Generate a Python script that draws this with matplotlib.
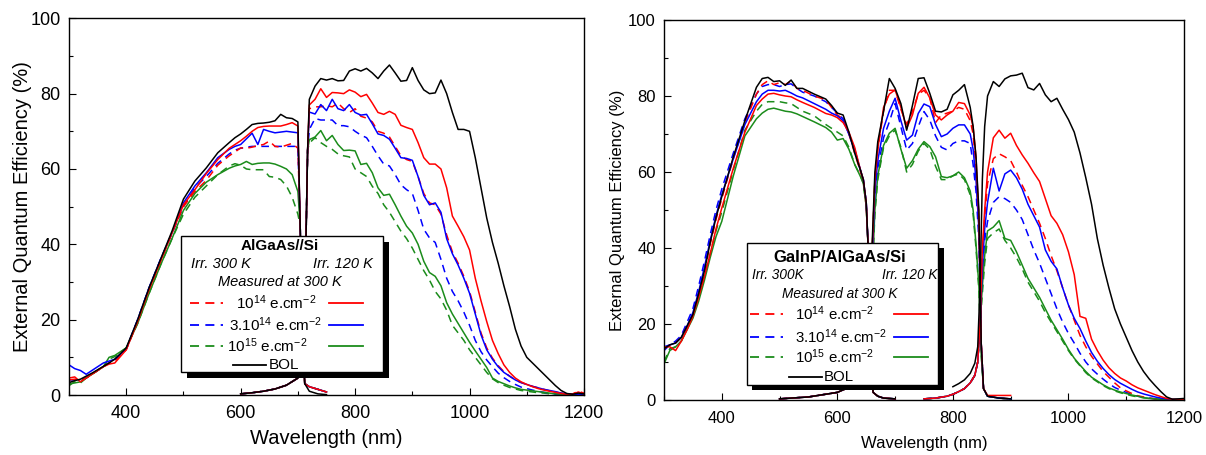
import numpy as np
import matplotlib
matplotlib.use("Agg")
import matplotlib.pyplot as plt
from matplotlib.patches import Rectangle
from matplotlib.lines import Line2D

plt.rcParams['font.family'] = ['Liberation Sans', 'DejaVu Sans']
plt.rcParams['mathtext.fontset'] = 'custom'
plt.rcParams['mathtext.rm'] = 'Liberation Sans'
plt.rcParams['mathtext.it'] = 'Liberation Sans:italic'
plt.rcParams['mathtext.bf'] = 'Liberation Sans:bold'

# ---------------- left panel : AlGaAs//Si ----------------
# top cell (AlGaAs)
L_TOP_WL = [300, 310, 320, 330, 340, 360, 370, 380, 400, 420, 440, 460, 480, 500, 520,
            540, 560, 580, 590, 600, 610, 620, 630, 640, 650, 660, 670, 680, 690, 700]
L_TOP = {
    'd14': [4, 4.2, 4, 4.5, 5.5, 7.5, 8.5, 9, 12, 19.5, 28, 35.5, 43, 50, 54,
            57, 61, 63.5, 64.5, 65.6, 65.5, 65.8, 66.2, 66.5, 67.4, 66, 65.8, 66.3, 66.8, 65.5],
    's14': [4.5, 4.8, 3.5, 4.5, 5.5, 7.5, 8.2, 8.5, 12, 19.5, 28, 35.5, 43, 50.5, 54.5,
            58.8, 62.5, 65.5, 66.5, 67.5, 68.7, 70, 71, 71.3, 71.4, 71.4, 71.4, 71.8, 72.3, 71.4],
    'd314': [4, 4, 4, 4.5, 5.5, 7.5, 8.5, 9.5, 12.2, 20, 28.5, 36, 43, 50, 55,
             58, 61.5, 64, 65, 65.5, 65.8, 66, 66, 66, 66, 66, 66, 66, 66, 66],
    's314': [8, 7, 6.5, 5.5, 6.5, 8.5, 9, 9.5, 12.2, 20, 28.5, 36, 43, 51, 55.5,
             59, 63, 65.2, 66, 66.5, 68, 69.5, 66.5, 70.5, 70, 69.6, 69.8, 70, 69.8, 69.6],
    'd15': [2.5, 3.5, 3.2, 4.5, 5.5, 7.5, 9.5, 10.2, 12.5, 19, 27, 34.5, 41.5, 48, 52.5,
            55.5, 58.5, 60.8, 61.4, 61, 60, 59.8, 59.8, 59.8, 58, 57.8, 57.2, 55.5, 52.5, 48],
    's15': [3, 3.2, 3.5, 4.5, 5.5, 7.5, 10, 10.5, 12.5, 19, 27, 34.5, 41.5, 49, 53.5,
            56.5, 58.5, 60.2, 60.8, 61.2, 62, 61.2, 61.5, 61.6, 61.6, 61.3, 60.7, 60, 58.5, 54],
    'bol': [3.3, 3.8, 4.2, 5, 5.8, 7.6, 8.5, 9.5, 12.5, 20, 28.5, 36, 43.5, 52, 56.8,
            60.3, 64.3, 67, 68.3, 69.3, 70.5, 71.8, 72.1, 72.2, 72.4, 72.8, 74.5, 73.6, 73.4, 72.5],
}
L_TOP_TAIL_WL = [704, 708, 712, 720, 735, 750]
L_TOP_TAIL = [45, 15, 3, 2.2, 1.5, 0.8]
L_BOL_TAIL = [45, 15, 3, 1.0, 0.3, 0.1]

# bottom cell (Si)
L_BOT_EDGE_WL = [600, 620, 640, 660, 680, 700, 706, 710, 714, 717]
L_BOT_EDGE = [0.3, 0.6, 1.0, 1.6, 2.6, 4.5, 6.5, 12, 40, 65]
L_BOT_WL = np.arange(720, 1201, 10)
L_BOT = {
    'd14': [76, 76.5, 76.5, 76.8, 76.5, 77.5, 76, 75, 76, 74, 73.5, 72.5, 70, 69.5, 68.5,
            66, 63.5, 62.5, 62, 58, 53.5, 51, 50.5, 48, 42.5, 38, 35, 31.5, 27.5, 22,
            16.5, 12.5, 9.8, 7.8, 6.2, 5, 4, 3.3, 2.8, 2.3, 1.9, 1.5, 1.1, 0.8, 0.5,
            0.3, 0.3, 1.0, 0.5],
    's14': [77, 78.5, 81.3, 79, 80.3, 80.2, 80, 81, 80.4, 79.2, 79.8, 77.5, 75, 74.5, 75.3,
            74.5, 71.6, 71, 70.5, 67, 63, 61.3, 61.3, 60, 55, 47.5, 44.8, 42, 38.5, 31,
            25, 19.5, 14.5, 11, 8, 6, 4.5, 3.5, 2.8, 2.2, 1.7, 1.3, 1.0, 0.7, 0.4,
            0.2, 0.2, 0.8, 0.3],
    'd314': [70.5, 73.4, 73, 73, 73, 71.5, 71.5, 71.2, 70, 69, 68.3, 66, 63.5, 61.3, 60.8,
             58.5, 55.8, 54.5, 53.5, 49, 44, 41.7, 40.5, 36, 31, 27.5, 25, 22, 18.5, 14.5,
             11.5, 9.3, 7.5, 5.8, 4.6, 3.6, 2.8, 2.1, 1.7, 1.3, 1.0, 0.7, 0.5, 0.3, 0.2,
             0.1, 0.1, 0.1, 0.1],
    's314': [75.1, 74.6, 77.1, 75.5, 78.5, 76, 75.5, 77.1, 75, 74.3, 74.5, 72, 69.3, 68.9, 67.9,
             65.5, 63, 62.8, 62.3, 58, 53, 50.5, 51, 48.5, 41.5, 37.5, 34.5, 31, 27, 21.5,
             16, 12, 9.5, 7.5, 6, 5, 4, 3.3, 2.8, 2.3, 1.9, 1.5, 1.2, 0.9, 0.5,
             0.3, 0.2, 0.2, 0.1],
    'd15': [66.9, 68.3, 67, 66, 65.2, 64, 63.5, 63.2, 60, 59, 58, 55.4, 53.5, 50.5, 48.5,
            46, 43.5, 41.5, 39, 36, 33, 30.5, 27.5, 25.5, 22.5, 18.5, 16.5, 14.5, 12, 10,
            8, 6, 4.3, 3.3, 2.6, 2, 1.6, 1.2, 1.0, 0.8, 0.6, 0.5, 0.3, 0.2, 0.1,
            0.1, 0.1, 0.1, 0.1],
    's15': [67.8, 68.5, 70.2, 67.5, 68.9, 66.5, 64.9, 65, 64.8, 61.2, 61.5, 59, 55, 53, 53.3,
            50.5, 47.5, 44.8, 43, 40, 35.5, 32.5, 31.5, 29, 24.5, 21.5, 19, 16.5, 14, 11.7,
            9.5, 7.3, 4.5, 3.6, 3.0, 2.4, 1.9, 1.5, 1.3, 1.1, 0.9, 0.7, 0.5, 0.3, 0.2,
            0.1, 0.1, 0.1, 0.1],
    'bol': [78.5, 82, 84, 83.6, 84, 83.4, 83.5, 86, 86.6, 86, 86.7, 85.5, 84, 86, 87.6,
            85.5, 83.3, 83.5, 86.9, 83.5, 81, 80, 80.2, 83.6, 80, 75, 70.5, 70.5, 70, 63,
            55, 47, 40.5, 35, 29, 23.5, 17.5, 13, 10, 8.5, 7, 5.5, 4, 2.5, 1.2,
            0.4, 0.2, 0.5, 0.3],
}

# ---------------- right panel : GaInP/AlGaAs/Si ----------------
R_TOP_WL = [300, 310, 320, 330, 340, 350, 360, 370, 380, 390, 400, 420, 440, 460, 470, 480,
            490, 500, 510, 520, 530, 540, 560, 580, 590, 600, 610, 620, 630, 640, 645, 650]
R_TOP = {
    'd14': [13.5, 14.5, 15, 16.5, 19.5, 22.5, 28, 34, 41, 47.5, 53, 63.5, 73, 80.5, 83, 84,
            83, 83.5, 83, 84, 82, 81.5, 80, 79, 77, 75, 74, 70, 65, 60, 57.5, 51],
    's14': [14, 14, 13, 15.5, 18.5, 22, 27, 32.5, 38.5, 45, 50.5, 61, 70.5, 77.5, 79.2, 80.5,
            80.7, 80.3, 80, 79.8, 79, 78.3, 77, 75.4, 75, 74.3, 73, 70.5, 66.5, 60.5, 58, 52],
    'd314': [13, 14.5, 15.5, 17, 20.5, 24, 30, 36.5, 43.5, 50, 55.5, 65, 74, 80.5, 82.5, 83,
             83, 82.5, 83, 83.2, 82, 81, 80, 78.5, 77, 75.5, 74, 70, 65.5, 60.5, 58, 52],
    's314': [14, 14.5, 15, 16.5, 19.5, 23, 28.5, 35, 42, 48.5, 54, 63.5, 72.5, 78.5, 80.5, 81.5,
             81.5, 81.3, 81.5, 80.8, 80, 79.5, 78, 76.5, 75.5, 74.8, 73.5, 70, 66, 60.5, 58, 52],
    'd15': [10, 13.5, 14, 15.5, 19, 22, 27, 32.5, 38.5, 44.5, 49.5, 60.5, 71, 76, 77.8, 78.5,
            78.5, 78.5, 78.2, 78, 77, 76, 74.8, 72.5, 71.5, 70.5, 69.5, 66.5, 62, 59, 57, 51],
    's15': [9.5, 13, 14, 15.5, 18.5, 21.5, 26, 31.5, 37.5, 43, 47, 59, 69.5, 74, 75.5, 76.5,
            76.8, 76.4, 76, 75.8, 75.3, 74.6, 73.2, 71.7, 70.5, 68.4, 68.8, 66, 62, 58.8, 57, 51],
    'bol': [13.5, 14.5, 15, 16.5, 19.5, 22.5, 28, 34, 41.5, 48, 53.5, 64, 73.5, 82.3, 84.6, 84.9,
            83.8, 84, 82.8, 84.2, 82, 82, 80.5, 79.2, 77.5, 75.5, 75, 70.5, 65, 60.5, 58, 52],
}
R_TOP_TAIL_WL = [654, 658, 662, 670, 680, 700]
R_TOP_TAIL = [38, 8, 2, 1, 0.5, 0.3]

# middle cell (AlGaAs)
R_MID_EDGE_WL = [500, 550, 600, 630, 650, 656]
R_MID_EDGE = [0.3, 0.8, 2.0, 4, 8, 20]
R_MID_WL = [660, 665, 670, 680, 690, 700, 710, 720, 730, 740, 750, 760, 770, 780,
            790, 800, 810, 820, 830, 835, 840, 845, 849, 853, 860, 880, 900]
R_MID = {
    'd14': [38, 58, 66, 76, 81.5, 81.5, 76.5, 72.5, 76, 80.5, 81.5, 79.5, 73, 75,
            75.5, 76, 77, 76.5, 73.5, 70, 61, 46, 15, 3, 1, 0.5, 0.3],
    's14': [38, 58, 66, 77, 80.5, 81.6, 77, 71.5, 75, 80.7, 82.3, 79.5, 75, 73.7,
            75, 76, 78.3, 78, 75, 71.9, 64, 48, 15, 3, 1.2, 1.2, 1.2],
    'd314': [35, 53, 61, 69, 73.2, 78, 71.9, 65.8, 67.5, 71.9, 75.9, 73.7, 69.5, 66.5,
             65.8, 67.5, 68.2, 68.2, 67.5, 62, 55, 42, 14, 3, 1, 0.5, 0.3],
    's314': [36, 55, 63, 71.5, 76, 79.4, 73.5, 68.4, 69.7, 75.4, 77.9, 77.2, 72.5, 69.3,
             70, 71.5, 72.4, 72.4, 70, 66, 58, 45, 15, 3, 1, 0.5, 0.3],
    'd15': [31, 49, 58, 66.5, 69.5, 71, 66.5, 60, 62, 65.5, 67.5, 66, 61.5, 58,
            58, 59, 59.5, 58, 54, 49, 40, 29, 12, 3, 1, 0.5, 0.3],
    's15': [32, 50, 59, 67, 70.2, 71.5, 66, 61, 63, 66, 68, 66.7, 64, 58.8,
            58.5, 59, 60, 58.5, 55, 50, 41, 30, 12, 3, 1, 0.5, 0.3],
    'bol': [40, 60, 68, 76, 84.6, 82, 78, 71, 77.5, 84.6, 84.8, 80.7, 76, 75.8,
            76.5, 80.3, 81.5, 83, 77, 72, 64, 50, 15, 3, 1, 0.5, 0.3],
}

# bottom cell (Si)
R_BOT_EDGE_WL = [750, 770, 790, 800, 810, 820, 830, 838, 843, 847]
R_BOT_EDGE = [0.3, 0.5, 1.0, 1.5, 2.2, 3.0, 4.5, 6.5, 10, 20]
R_BOL_EDGE_WL = [800, 810, 820, 830, 838, 843, 847]
R_BOL_EDGE = [3.5, 4.3, 5.3, 7, 9.7, 14, 30]
R_BOT_WL = [851, 855, 860] + list(range(870, 1201, 10))
R_BOT = {
    'd14': [38, 48, 57, 63.5, 64.8, 64, 63, 60, 56.5, 53.5, 50, 46.5, 42.5,
            38, 34, 29.5, 25, 21, 17, 14, 11.5, 9.5, 7.5,
            6, 4.5, 3.2, 2.4, 1.7, 1.1, 0.8, 0.5, 0.3, 0.2, 0.1, 0.1, 0.1, 0.1],
    's14': [40, 50, 60, 69, 71, 68.9, 70.2, 67, 64.5, 62.3, 59.8, 57.5, 53,
            48.5, 46.5, 43.5, 39, 33, 22, 21.5, 16, 13, 10.5,
            8.5, 7, 5.8, 5, 4, 3.2, 2.6, 2, 1.4, 0.9, 0.4, 0.2, 0.1, 0.1],
    'd314': [33, 42, 47, 52, 53.5, 53, 52, 50, 47.5, 43.5, 39.5, 36, 32,
             28, 24, 20.5, 17.5, 15, 12.3, 10, 8.2, 6.8, 5.5,
             4.3, 3.3, 2.6, 2.0, 1.4, 1.0, 0.7, 0.5, 0.3, 0.2, 0.1, 0.1, 0.1, 0.1],
    's314': [35, 45, 52, 61, 55, 59.5, 60.5, 58.5, 55.5, 51.5, 48.5, 45.5, 39.5,
             36.5, 34.5, 29.5, 25, 21.5, 18.8, 15.5, 12.5, 10.2, 8.3,
             6.7, 5.4, 4.4, 3.6, 2.8, 2.1, 1.6, 1.2, 0.8, 0.5, 0.3, 0.2, 0.1, 0.1],
    'd15': [28, 36, 42.5, 44, 45, 42, 40, 37.5, 34.5, 31, 28.5, 26, 23,
            20.5, 18, 15.5, 13, 10.8, 9, 7.2, 5.8, 4.8, 3.8,
            3, 2.4, 1.9, 1.5, 1.1, 0.8, 0.6, 0.4, 0.3, 0.2, 0.1, 0.1, 0.1, 0.1],
    's15': [30, 38, 44.5, 45.5, 47.2, 42.5, 42, 39, 35.5, 32, 29.5, 27, 24,
            21, 18.5, 16, 13.3, 11, 9.2, 7.5, 6, 5, 4,
            3.2, 2.6, 2.1, 1.7, 1.3, 1.0, 0.6, 0.4, 0.3, 0.2, 0.1, 0.1, 0.1, 0.1],
    'bol': [58, 72, 80, 83.8, 82.5, 84.5, 85.3, 85.5, 86, 82.2, 81.6, 83.3, 80.3,
            78.5, 79.4, 76.5, 73.8, 70.5, 65, 58.5, 51.5, 42.5, 35.5,
            29.5, 24, 20, 16.5, 13, 10, 7.5, 5.5, 3.8, 2.2, 0.8, 0.2, 0.3, 0.4],
}

# ---------------- styles ----------------
RED, BLUE, GREEN = '#ff0000', '#0000ff', '#1b8c1b'
STYLE = {
    'd14': (RED, True), 's14': (RED, False),
    'd314': (BLUE, True), 's314': (BLUE, False),
    'd15': (GREEN, True), 's15': (GREEN, False),
    'bol': ('black', False),
}
ORDER = ['d15', 'd314', 'd14', 's15', 's314', 's14', 'bol']
DASH = (5, 3.5)
LW = 1.1


def draw(ax, x, y, key):
    color, dashed = STYLE[key]
    line, = ax.plot(x, y, color=color, lw=LW, zorder=2)
    if dashed:
        line.set_dashes(DASH)


def setup(ax, lab_fs, tick_fs, xpad, xlabpad, ylabpad):
    ax.set_xlim(300, 1200)
    ax.set_ylim(0, 100)
    ax.set_xticks([400, 600, 800, 1000, 1200])
    ax.set_xticks(np.arange(300, 1201, 100), minor=True)
    ax.set_yticks(np.arange(0, 101, 20))
    ax.set_yticks(np.arange(0, 101, 10), minor=True)
    ax.tick_params(which='both', direction='in', top=False, right=False, labelsize=tick_fs)
    ax.tick_params(axis='x', which='both', pad=xpad)
    ax.tick_params(axis='y', which='both', pad=6)
    ax.tick_params(which='major', length=5, width=0.8)
    ax.tick_params(which='minor', length=3, width=0.8)
    for s in ax.spines.values():
        s.set_linewidth(1.0)
    ax.set_xlabel('Wavelength (nm)', fontsize=lab_fs, labelpad=xlabpad)
    ax.set_ylabel('External Quantum Efficiency (%)', fontsize=lab_fs, labelpad=ylabpad)


W, H = 1206, 455
fig = plt.figure(figsize=(W / 100, H / 100), dpi=100)
axL = fig.add_axes([69 / W, 1 - 395 / H, (584 - 69) / W, (395 - 18.3) / H])
axR = fig.add_axes([664 / W, 1 - 400 / H, (1184 - 664) / W, (400 - 20) / H])

for k in ORDER:
    tail = L_BOL_TAIL if k == 'bol' else L_TOP_TAIL
    draw(axL, L_TOP_WL + L_TOP_TAIL_WL, L_TOP[k] + tail, k)
    draw(axL, L_BOT_EDGE_WL + list(L_BOT_WL), L_BOT_EDGE + L_BOT[k], k)
    draw(axR, R_TOP_WL + R_TOP_TAIL_WL, R_TOP[k] + R_TOP_TAIL, k)
    draw(axR, R_MID_EDGE_WL + R_MID_WL, R_MID_EDGE + R_MID[k], k)
    if k == 'bol':
        draw(axR, R_BOL_EDGE_WL + R_BOT_WL, R_BOL_EDGE + R_BOT[k], k)
    else:
        draw(axR, R_BOT_EDGE_WL + R_BOT_WL, R_BOT_EDGE + R_BOT[k], k)

setup(axL, 14.5, 13, xpad=7, xlabpad=5, ylabpad=-1)
setup(axR, 12, 12, xpad=8, xlabpad=7, ylabpad=2)


# ---------------- hand-made keys (pixel positions) ----------------
def fp(x, y):
    return x / W, 1 - y / H


def rect(x0, y0, x1, y1, **kw):
    r = Rectangle(fp(x0, y1), (x1 - x0) / W, (y1 - y0) / H,
                  transform=fig.transFigure, zorder=10, **kw)
    fig.add_artist(r)


def seg(x0, x1, y, key):
    color, dashed = STYLE[key]
    ln = Line2D([x0 / W, x1 / W], [1 - y / H, 1 - y / H], transform=fig.transFigure,
                color=color, lw=LW + 0.2, zorder=12)
    if dashed:
        ln.set_dashes(DASH)
    fig.add_artist(ln)


def txt(x, y, s, **kw):
    fig.text(x / W, 1 - y / H, s, va='center', zorder=13, **kw)


ROW_LABELS = [r'10$^{\mathregular{14}}$ e.cm$^{\mathregular{-2}}$',
              r'3.10$^{\mathregular{14}}$ e.cm$^{\mathregular{-2}}$',
              r'10$^{\mathregular{15}}$ e.cm$^{\mathregular{-2}}$']
ROW_KEYS = [('d14', 's14'), ('d314', 's314'), ('d15', 's15')]


def key_box(box, shadow, title, title_fs, irr_left, ys, fs, ifs, cx_rows,
            dash_x, solid_x, bol_x, irr_x, meas_x):
    rect(*shadow, facecolor='black', edgecolor='none')
    rect(*box, facecolor='white', edgecolor='black', lw=1.0)
    txt(meas_x, ys[0], title, ha='center', fontsize=title_fs, fontweight='bold')
    txt(irr_x[0], ys[1], irr_left, ha='left', fontsize=ifs, style='italic')
    txt(irr_x[1], ys[1], 'Irr. 120 K', ha='right', fontsize=ifs, style='italic')
    txt(meas_x, ys[2], 'Measured at 300 K', ha='center', fontsize=ifs, style='italic')
    for i, (lab, (kd, ks)) in enumerate(zip(ROW_LABELS, ROW_KEYS)):
        y = ys[3 + i]
        seg(dash_x[0], dash_x[1], y, kd)
        seg(solid_x[0], solid_x[1], y, ks)
        txt(cx_rows[i], y, lab, ha='center', fontsize=fs)
    seg(bol_x[0], bol_x[1], ys[6], 'bol')
    txt(bol_x[1] + 2.5, ys[6], 'BOL', ha='left', fontsize=fs)


key_box(box=(180.7, 236, 383.3, 371.7), shadow=(186.7, 242, 389, 378.3),
        title='AlGaAs//Si', title_fs=11, irr_left='Irr. 300 K',
        ys=[245.5, 263.5, 282.5, 303, 325, 346, 365], fs=11, ifs=10.5,
        cx_rows=[276, 276, 267], dash_x=(190, 223.3), solid_x=(329.3, 362.7),
        bol_x=(233.3, 266), irr_x=(190.7, 373.3), meas_x=280)

key_box(box=(747.3, 243.3, 938.3, 385), shadow=(752, 248, 944, 390),
        title='GaInP/AlGaAs/Si', title_fs=12, irr_left='Irr. 300K',
        ys=[257, 275, 293.5, 314, 336.5, 356.5, 376.7], fs=10.8, ifs=9.8,
        cx_rows=[835, 841, 835], dash_x=(750, 783.3), solid_x=(894, 928.3),
        bol_x=(789.3, 821.7), irr_x=(751.7, 937.3), meas_x=840)

fig.savefig('out.png', dpi=100)
